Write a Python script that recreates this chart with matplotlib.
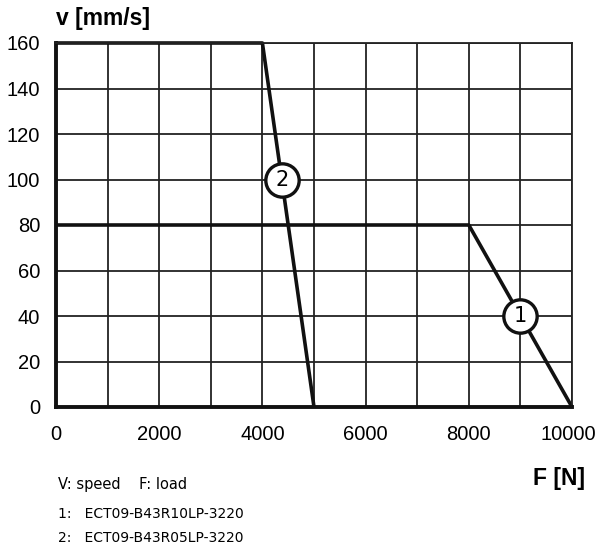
import matplotlib.pyplot as plt
from matplotlib.transforms import ScaledTranslation

# curve 1: ECT09-B43R10LP-3220, curve 2: ECT09-B43R05LP-3220
f1 = [0, 8000, 10000]
v1 = [80, 80, 0]
f2 = [0, 4000, 5000]
v2 = [160, 160, 0]

xticks = [0, 2000, 4000, 6000, 8000, 10000]
yticks = [0, 20, 40, 60, 80, 100, 120, 140, 160]

# where the circled numbers sit on the curves
lab1 = (9000, 40)
lab2 = (4375, 100)

fig = plt.figure(figsize=(5.99, 5.46), dpi=100)
ax = fig.add_axes([56/599, 1 - 407/546, 516/599, 364/546])

ax.set_xlim(0, 10000)
ax.set_ylim(0, 160)
ax.set_xticks(range(0, 10001, 1000))
ax.set_yticks(yticks)
ax.grid(True, color='#222222', lw=1.3)
ax.set_axisbelow(True)
ax.tick_params(length=0, labelsize=14.5)
ax.tick_params(axis='x', pad=13)
ax.tick_params(axis='y', pad=11.5)
ax.set_xticklabels([str(t) if t in xticks else '' for t in range(0, 10001, 1000)])
ax.set_yticklabels([str(t) for t in yticks])
for t in ax.get_xticklabels() + ax.get_yticklabels():
    t.set_fontname('Liberation Sans')
# last x label sits a bit to the left in the original
last = ax.get_xticklabels()[-1]
last.set_transform(last.get_transform() + ScaledTranslation(-4/100, 0, fig.dpi_scale_trans))

for s in ['top', 'right']:
    ax.spines[s].set_linewidth(1.3)
    ax.spines[s].set_color('#222222')
for s in ['left', 'bottom']:
    ax.spines[s].set_linewidth(2.8)
    ax.spines[s].set_color('#111111')

ax.plot(f1, v1, color='#111111', lw=2.6, solid_capstyle='butt', clip_on=False)
ax.plot(f2, v2, color='#111111', lw=2.6, solid_capstyle='butt', clip_on=False)

for (x, y), s in [(lab1, '1'), (lab2, '2')]:
    ax.plot(x, y, 'o', ms=24, mfc='white', mec='#111111', mew=2.4, zorder=5)
    ax.text(x, y, s, ha='center', va='center', fontsize=15,
            family=['Liberation Sans Narrow', 'DejaVu Sans'], zorder=6)

fig.text(56/599, 1 - 18/546, 'v [mm/s]', fontsize=16.5, fontweight='bold',
         fontname='Liberation Sans', va='center', ha='left')
fig.text(585/599, 1 - 479/546, 'F [N]', fontsize=16.5, fontweight='bold',
         fontname='Liberation Sans', va='center', ha='right')

narrow = ['Liberation Sans Narrow', 'DejaVu Sans']
fig.text(58/599, 1 - 484/546, 'V: speed    F: load', fontsize=10.5,
         family=narrow, va='center')
fig.text(58/599, 1 - 514/546, '1:   ECT09-B43R10LP-3220', fontsize=10,
         family=narrow, va='center')
fig.text(58/599, 1 - 538/546, '2:   ECT09-B43R05LP-3220', fontsize=10,
         family=narrow, va='center')

fig.savefig('out.png', dpi=100)
